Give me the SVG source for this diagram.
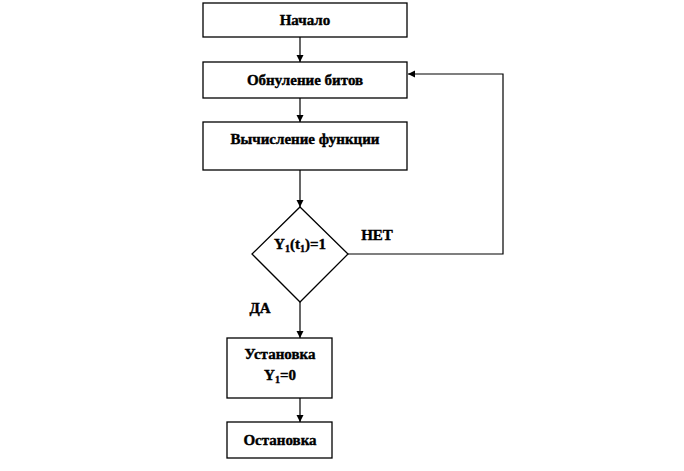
<svg xmlns="http://www.w3.org/2000/svg" width="684" height="471" viewBox="0 0 684 471">
<style>
.box{fill:#fff;stroke:#000;stroke-width:1.3}
.t{font-family:'Liberation Serif','Times New Roman','DejaVu Serif',serif;font-weight:bold;font-size:15px;fill:#000;text-anchor:middle;stroke:#000;stroke-width:0.4}
.c{fill:none;stroke:#000;stroke-width:1.2}
</style>
<defs>
<marker id="a" markerWidth="8" markerHeight="8" refX="7" refY="4" orient="auto" markerUnits="userSpaceOnUse">
<path d="M0,0.5 L7,4 L0,7.5 Z" fill="#000"/>
</marker>
</defs>
<rect width="684" height="471" fill="#fff"/>
<g id="connectors">
<line class="c" x1="300" y1="37" x2="300" y2="62" marker-end="url(#a)"/>
<line class="c" x1="300" y1="98" x2="300" y2="122" marker-end="url(#a)"/>
<line class="c" x1="300" y1="170" x2="300" y2="207" marker-end="url(#a)"/>
<line class="c" x1="300" y1="302" x2="300" y2="338" marker-end="url(#a)"/>
<line class="c" x1="300" y1="398" x2="300" y2="422" marker-end="url(#a)"/>
<polyline class="c" points="348,254 503,254 503,74 408,74" marker-end="url(#a)"/>
<text class="t" x="377" y="240">НЕТ</text>
<text class="t" x="260" y="313">ДА</text>
</g>
<g id="start">
<rect class="box" x="203" y="3" width="204" height="34"/>
<text class="t" x="305" y="25">Начало</text>
</g>
<g id="reset">
<rect class="box" x="203" y="62" width="204" height="36"/>
<text class="t" x="305" y="85">Обнуление битов</text>
</g>
<g id="compute">
<rect class="box" x="203" y="122" width="204" height="48"/>
<text class="t" x="305" y="144">Вычисление функции</text>
</g>
<g id="decision">
<polygon class="box" points="300,207 348,254 300,302 252,254"/>
<text class="t" x="300" y="249">Y<tspan font-size="10" dy="3">1</tspan><tspan dy="-3">(t</tspan><tspan font-size="10" dy="3">1</tspan><tspan dy="-3">)=1</tspan></text>
</g>
<g id="set">
<rect class="box" x="227" y="338" width="105" height="60"/>
<text class="t" x="280" y="359">Установка</text>
<text class="t" x="280" y="380">Y<tspan font-size="10" dy="3">1</tspan><tspan dy="-3">=0</tspan></text>
</g>
<g id="stop">
<rect class="box" x="227" y="422" width="105" height="36"/>
<text class="t" x="280" y="445">Остановка</text>
</g>
</svg>
